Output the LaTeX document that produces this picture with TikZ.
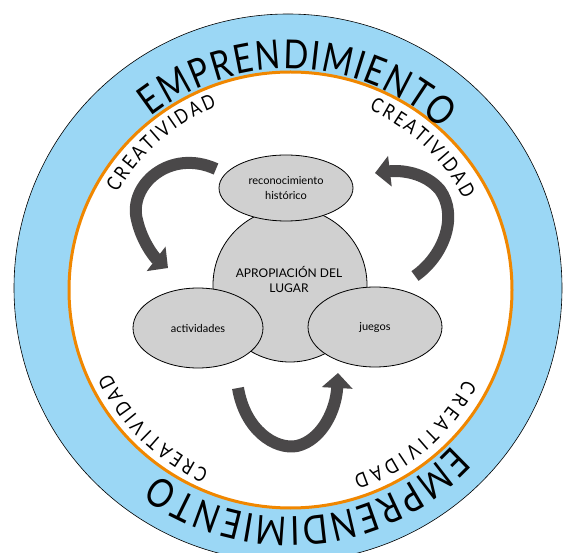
\documentclass[tikz,border=0pt]{standalone}
\usepackage{fontspec}
\setmainfont{Lato}
\newfontfamily\empfont[FakeStretch=0.82]{Lato}
\usetikzlibrary{decorations.text,arrows.meta,shapes.geometric,calc}
\definecolor{ringblue}{RGB}{155,215,245}
\definecolor{ringorange}{RGB}{240,135,0}
\definecolor{nodegray}{RGB}{208,208,208}
\definecolor{arrowgray}{RGB}{74,72,73}
\newcommand\creafont{\empfont\fontsize{20}{20}\selectfont}
\newcommand\emprfont{\empfont\fontsize{40}{40}\selectfont}
\tikzset{
  ringtext/.style={decorate, decoration={text along path, text align=fit to path, text={#1}}},
  grayshape/.style={draw=black, line width=0.8pt, fill=nodegray, inner sep=0pt},
  ellnode/.style={grayshape, ellipse, align=center, font=\fontsize{11}{15}\selectfont},
  bigarrow/.style={draw=arrowgray, line width=12pt, -{Triangle[length=15pt,width=30pt]}},
}
\begin{document}
\begin{tikzpicture}[x=1pt,y=1pt]
\useasboundingbox (0,0) rectangle (565,552);
\fill[white] (0,0) rectangle (565,552);
\begin{scope}
\clip (0,0) rectangle (565,552);
% outer ring
\node[circle, draw=black, line width=0.6pt, fill=ringblue, minimum size=548pt, inner sep=0pt] (outer) at (288,264) {};
\node[ellipse, draw=ringorange, line width=3pt, fill=white, minimum width=443pt, minimum height=436pt, inner sep=0pt] (orange) at (290.5,262) {};
\end{scope}
% text centres
\coordinate (tc) at (289,259);
\coordinate (cc) at (289,262);
\path[ringtext={|\emprfont|EMPRENDIMIENTO}] ($(tc)+(128:224)$) arc[start angle=128, end angle=47, radius=224];
\path[ringtext={|\emprfont|EMPRENDIMIENTO}] ($(tc)+(-43:224)$) arc[start angle=-43, end angle=-126, radius=224];
\path[ringtext={|\creafont|CREATIVIDAD}] ($(cc)+(150.5:197)$) arc[start angle=150.5, end angle=111.5, radius=197];
\path[ringtext={|\creafont|CREATIVIDAD}] ($(cc)+(66:197)$) arc[start angle=66, end angle=27.5, radius=197];
\path[ringtext={|\creafont|CREATIVIDAD}] ($(cc)+(-114:197)$) arc[start angle=-114, end angle=-155, radius=197];
\path[ringtext={|\creafont|CREATIVIDAD}] ($(cc)+(-27:197)$) arc[start angle=-27, end angle=-71, radius=197];
% central nodes
\node[grayshape, circle, minimum size=154pt] (apr) at (290,267) {};
\node[align=center, font=\fontsize{12}{15}\selectfont] (aprt) at (289,273) {APROPIACIÓN DEL\\LUGAR};
\node[ellnode, minimum width=134pt, minimum height=66pt] (rec) at (286,364) {reconocimiento\\histórico};
\node[ellnode, minimum width=130pt, minimum height=80pt] (act) at (198,224) {actividades};
\node[ellnode, minimum width=134pt, minimum height=80pt] (jue) at (375,225) {juegos};
% arrows
\coordinate (la1) at (216,383);
\coordinate (la2) at (137,332);
\coordinate (la3) at (168,284);
\draw[bigarrow] (la1) .. controls (170,404) and (128,367) .. (la2) .. controls (142,310) and (155,294) .. (la3);
\coordinate (ra1) at (415,276);
\coordinate (ra2) at (440,362);
\coordinate (ra3) at (375,379);
\draw[bigarrow] (ra1) .. controls (445,297) and (458,337) .. (ra2) .. controls (425,380) and (400,382) .. (ra3);
\coordinate (ba1) at (238,164);
\coordinate (ba2) at (297,106);
\coordinate (ba3) at (338,179);
\draw[bigarrow] (ba1) .. controls (245,122) and (275,102) .. (ba2) .. controls (322,112) and (336,142) .. (ba3);
\end{tikzpicture}
\end{document}
